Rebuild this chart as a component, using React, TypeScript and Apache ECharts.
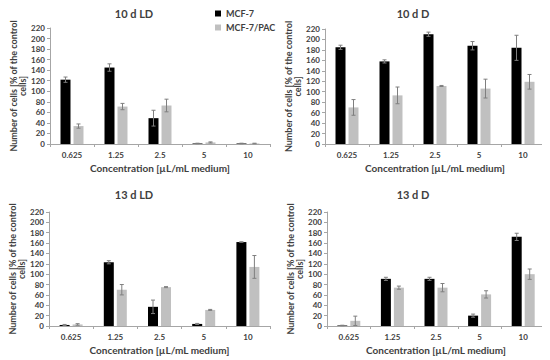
import React, { useEffect, useRef } from "react";
import * as echarts from "echarts";

const CATEGORIES = ["0.625", "1.25", "2.5", "5", "10"];
const Y_MIN = 0;
const Y_MAX = 220;
const Y_STEP = 20;

const SERIES_NAMES = ["MCF-7", "MCF-7/PAC"];
const TITLES = ["10 d LD", "10 d D", "13 d LD", "13 d D"];

const ld10Mcf = [122, 145, 49, 1, 1];
const ld10McfErr = [5, 7, 15, 0.5, 0.5];
const ld10Pac = [34, 71, 73, 3, 1];
const ld10PacErr = [4, 6, 12, 1, 0.5];

const d10Mcf = [185, 158, 210, 188, 184];
const d10McfErr = [4, 3, 4, 8, 24];
const d10Pac = [70, 93, 111, 106, 119];
const d10PacErr = [15, 16, 1, 18, 14];

const ld13Mcf = [2, 123, 37, 4, 162];
const ld13McfErr = [1, 3, 13, 1, 0.5];
const ld13Pac = [3, 70, 75, 31, 114];
const ld13PacErr = [1.5, 10, 1, 1, 22];

const d13Mcf = [1, 91, 91, 20, 172];
const d13McfErr = [0.5, 3, 3, 3, 7];
const d13Pac = [10, 74, 74, 61, 100];
const d13PacErr = [9, 3, 8, 7, 10];

const PANELS = [
  { mcf: ld10Mcf, mcfErr: ld10McfErr, pac: ld10Pac, pacErr: ld10PacErr },
  { mcf: d10Mcf, mcfErr: d10McfErr, pac: d10Pac, pacErr: d10PacErr },
  { mcf: ld13Mcf, mcfErr: ld13McfErr, pac: ld13Pac, pacErr: ld13PacErr },
  { mcf: d13Mcf, mcfErr: d13McfErr, pac: d13Pac, pacErr: d13PacErr },
];

// layout (not data)
const GRIDS = [
  { left: 50, top: 28, width: 220, height: 116 },
  { left: 325, top: 29, width: 220, height: 115 },
  { left: 49, top: 212, width: 221, height: 114 },
  { left: 327, top: 212, width: 218, height: 114 },
];
const TITLE_POS = [
  { left: 134, top: 8 },
  { left: 413, top: 8 },
  { left: 134, top: 189 },
  { left: 413, top: 189 },
];

const FONT = "Lato";
const BLACK = "#000000";
const GRAY = "#c0c0c0";
const AXIS_COLOR = "#a6a6a6";
const TEXT_COLOR = "#404040";
const BAR_W = 10;
const OFFSET = 6.5;

function errorSeries(values: number[], errs: number[], idx: number, offset: number) {
  return {
    type: "custom",
    xAxisIndex: idx,
    yAxisIndex: idx,
    silent: true,
    z: 5,
    data: values.map((v, i) => [i, v, errs[i]]),
    encode: { x: 0, y: 1 },
    renderItem: (params: any, api: any) => {
      const i = api.value(0);
      const v = api.value(1);
      const e = api.value(2);
      const top = api.coord([i, v + e]);
      const bot = api.coord([i, Math.max(0, v - e)]);
      const x = top[0] + offset;
      const cap = 2;
      const style = { stroke: "#7f7f7f", lineWidth: 1 };
      return {
        type: "group",
        children: [
          { type: "line", shape: { x1: x, y1: top[1], x2: x, y2: bot[1] }, style },
          { type: "line", shape: { x1: x - cap, y1: top[1], x2: x + cap, y2: top[1] }, style },
          { type: "line", shape: { x1: x - cap, y1: bot[1], x2: x + cap, y2: bot[1] }, style },
        ],
      };
    },
  };
}

export default function App() {
  const ref = useRef<HTMLDivElement>(null);
  useEffect(() => {
    if (!ref.current) return;
    const chart = echarts.init(ref.current, undefined, { renderer: "svg" });
    const series: any[] = [];
    PANELS.forEach((p, idx) => {
      series.push({
        name: SERIES_NAMES[0],
        type: "bar",
        xAxisIndex: idx,
        yAxisIndex: idx,
        data: p.mcf,
        barWidth: BAR_W,
        barGap: "30%",
        itemStyle: { color: BLACK },
      });
      series.push({
        name: SERIES_NAMES[1],
        type: "bar",
        xAxisIndex: idx,
        yAxisIndex: idx,
        data: p.pac,
        barWidth: BAR_W,
        barGap: "30%",
        itemStyle: { color: GRAY },
      });
      series.push(errorSeries(p.mcf, p.mcfErr, idx, -OFFSET));
      series.push(errorSeries(p.pac, p.pacErr, idx, OFFSET));
    });

    const option: any = {
      animation: false,
      backgroundColor: "#ffffff",
      textStyle: { fontFamily: FONT },
      title: TITLES.map((t, i) => ({
        text: t,
        left: TITLE_POS[i].left,
        top: TITLE_POS[i].top,
        textAlign: "center",
        padding: 0,
        textStyle: { fontFamily: FONT, fontSize: 11, fontWeight: "bold", color: TEXT_COLOR },
      })),
      legend: {
        data: SERIES_NAMES,
        orient: "vertical",
        left: 215,
        top: 9,
        padding: 0,
        itemWidth: 6,
        itemHeight: 6,
        itemGap: 5,
        icon: "rect",
        textStyle: { fontFamily: FONT, fontSize: 9, fontWeight: "bold", color: TEXT_COLOR },
      },
      grid: GRIDS.map((g) => ({ ...g, containLabel: false })),
      xAxis: GRIDS.map((_, i) => ({
        type: "category",
        gridIndex: i,
        data: CATEGORIES,
        name: "Concentration [µL/mL medium]",
        nameLocation: "middle",
        nameGap: 19,
        nameTextStyle: { fontFamily: FONT, fontSize: 10, fontWeight: "bold", color: TEXT_COLOR },
        axisLine: { lineStyle: { color: AXIS_COLOR } },
        axisTick: { show: true, length: 3, lineStyle: { color: AXIS_COLOR } },
        axisLabel: { fontFamily: FONT, fontSize: 8, fontWeight: "bold", color: TEXT_COLOR, margin: 7 },
      })),
      yAxis: GRIDS.map((_, i) => ({
        type: "value",
        gridIndex: i,
        min: Y_MIN,
        max: Y_MAX,
        interval: Y_STEP,
        name: "Number of cells [% of the control\ncells]",
        nameLocation: "middle",
        nameGap: 22,
        nameTextStyle: {
          fontFamily: FONT,
          fontSize: 9,
          fontWeight: "bold",
          color: TEXT_COLOR,
          lineHeight: 9,
        },
        axisLine: { show: true, lineStyle: { color: AXIS_COLOR } },
        axisTick: { show: true, length: 3, lineStyle: { color: AXIS_COLOR } },
        splitLine: { show: false },
        axisLabel: { fontFamily: FONT, fontSize: 8, fontWeight: "bold", color: TEXT_COLOR, margin: 5 },
      })),
      series,
    };
    chart.setOption(option);
    return () => chart.dispose();
  }, []);
  return <div ref={ref} style={{ width: 550, height: 360, marginLeft: -8, marginTop: -8 }} />;
}
